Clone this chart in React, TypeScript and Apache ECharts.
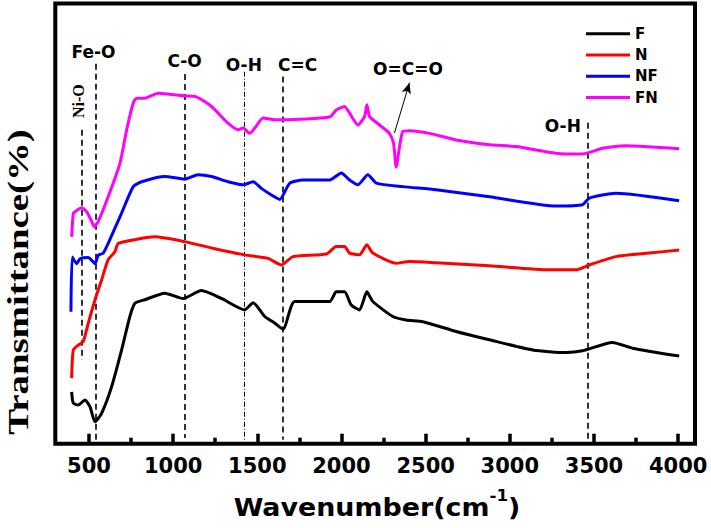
import React, { useEffect, useRef } from "react";
import * as echarts from "echarts";

// Wavenumber (cm-1) vs relative transmittance (arbitrary units, 0-100 plot scale)
const fData: [number, number][] = [
  [397, 11.8], [407, 9.2], [436, 8.8], [476, 9.9], [506, 8.4], [536, 5.0], [575, 6.9],
  [635, 13.0], [694, 21.3], [743, 28.9], [773, 31.9], [832, 32.7], [951, 34.2],
  [1059, 33.0], [1168, 34.8], [1287, 33.0], [1425, 30.4], [1475, 32.0], [1544, 28.9],
  [1603, 27.4], [1653, 26.0], [1722, 32.3], [1930, 32.3], [1969, 34.5], [2018, 34.5],
  [2058, 31.5], [2107, 30.4], [2151, 34.5], [2186, 32.3], [2305, 28.9], [2384, 28.1],
  [2483, 27.7], [2681, 25.5], [2879, 23.6], [3136, 21.3], [3334, 20.7], [3432, 21.1],
  [3610, 23.0], [3729, 21.7], [4006, 19.9],
];
const nData: [number, number][] = [
  [397, 14.9], [407, 21.3], [436, 22.4], [466, 23.2], [496, 27.4], [536, 32.7],
  [575, 37.2], [614, 41.8], [654, 43.6], [674, 45.5], [792, 46.5], [891, 47.0],
  [1069, 45.9], [1247, 44.3], [1425, 42.9], [1564, 42.1], [1643, 40.6], [1712, 42.5],
  [1910, 43.1], [1969, 44.8], [2018, 44.8], [2048, 43.3], [2107, 42.9], [2151, 45.2],
  [2186, 43.3], [2325, 41.0], [2404, 41.4], [2562, 41.1], [2879, 40.4], [3235, 39.5],
  [3393, 39.5], [3472, 40.6], [3630, 42.5], [3828, 43.3], [4006, 44.0],
];
const nfData: [number, number][] = [
  [393, 30.0], [401, 42.4], [427, 40.9], [447, 42.0], [496, 42.3], [536, 40.9],
  [555, 42.8], [585, 43.3], [614, 45.5], [694, 52.4], [763, 58.4], [813, 59.5],
  [951, 60.7], [1069, 60.1], [1148, 61.1], [1228, 60.7], [1326, 59.5], [1415, 58.8],
  [1475, 59.5], [1524, 58.0], [1584, 56.5], [1633, 55.5], [1693, 59.2], [1771, 59.9],
  [1930, 59.9], [1999, 61.5], [2048, 59.9], [2097, 58.8], [2157, 61.1], [2207, 59.2],
  [2364, 58.4], [2562, 57.7], [2879, 56.1], [3274, 54.0], [3432, 54.3], [3472, 55.8],
  [3630, 56.9], [4006, 55.2],
];
const fnData: [number, number][] = [
  [397, 47.0], [407, 52.4], [417, 52.7], [457, 53.6], [486, 52.7], [516, 50.5],
  [531, 49.3], [555, 50.5], [614, 56.1], [684, 63.7], [724, 71.3], [763, 77.4],
  [783, 78.5], [832, 78.5], [911, 79.6], [1069, 79.0], [1129, 78.9], [1228, 76.6],
  [1326, 72.8], [1386, 71.3], [1415, 71.7], [1455, 70.5], [1485, 71.7], [1534, 74.0],
  [1603, 73.6], [1653, 73.6], [1930, 74.2], [1969, 75.8], [2018, 76.6], [2048, 75.1],
  [2097, 72.4], [2137, 74.3], [2151, 77.0], [2167, 74.3], [2226, 72.4], [2285, 70.5],
  [2309, 68.3], [2325, 62.8], [2345, 67.5], [2364, 70.9], [2404, 71.1], [2523, 70.5],
  [2681, 69.0], [2879, 67.9], [3037, 67.5], [3274, 66.0], [3432, 65.8], [3551, 67.1],
  [3690, 67.7], [4006, 67.0],
];

const seriesNames = ["F", "N", "NF", "FN"];
const seriesColors = ["#000000", "#ff0000", "#0000ff", "#ff00ff"];
const majorTicks = [500, 1000, 1500, 2000, 2500, 3000, 3500, 4000];
const minorTicks = [750, 1250, 1750, 2250, 2750, 3250, 3750];

// Peak-assignment guide lines: [wavenumber, top, bottom, style]
const guideLines: [number, number, number, string][] = [
  [458, 71.3, 19.0, "dash"],
  [541, 86.3, 0.5, "dash"],
  [1068, 84.0, 1.3, "dash"],
  [1425, 84.5, 0.9, "dashdot"],
  [1651, 83.4, 0.9, "dash"],
  [3464, 72.9, 0.5, "dash"],
];
// Labels: [text, wavenumber, value]
const peakLabels: [string, number, number][] = [
  ["Fe-O", 527, 89.0],
  ["C-O", 1068, 87.0],
  ["O-H", 1420, 86.0],
  ["C=C", 1740, 86.0],
  ["O=C=O", 2395, 85.2],
  ["O-H", 3315, 72.2],
];
const niLabel: [string, number, number] = ["Ni-O", 435, 77.8];
const arrowFrom: [number, number] = [2315, 70.6];
const arrowTo: [number, number] = [2404, 82.0];

export default function App() {
  const ref = useRef<HTMLDivElement>(null);
  useEffect(() => {
    if (!ref.current) return;
    const chart = echarts.init(ref.current, undefined, { renderer: "svg" });
    const datasets = [fData, nData, nfData, fnData];

    const markLineData: any[] = guideLines.map(([w, top, bot, st]) => [
      {
        coord: [w, top],
        lineStyle: {
          color: "#000",
          width: st === "dash" ? 1.6 : 1,
          type: st === "dash" ? [6, 4] : [5, 2, 1, 2],
        },
      },
      { coord: [w, bot] },
    ]);
    markLineData.push([
      { coord: arrowFrom, symbol: "none", lineStyle: { color: "#000", width: 1, type: "solid" } },
      { coord: arrowTo, symbol: "arrow", symbolSize: [7, 11] },
    ]);

    const markPointData: any[] = peakLabels.map(([t, w, v]) => ({
      coord: [w, v],
      symbolSize: 0,
      itemStyle: { color: "rgba(0,0,0,0)" },
      label: {
        show: true,
        position: "inside",
        formatter: t,
        fontFamily: "DejaVu Sans",
        fontWeight: "bold",
        fontSize: 17,
        color: "#000",
      },
    }));
    markPointData.push({
      coord: [niLabel[1], niLabel[2]],
      symbolSize: 0,
      itemStyle: { color: "rgba(0,0,0,0)" },
      label: {
        show: true,
        position: "inside",
        formatter: niLabel[0],
        rotate: 90,
        fontFamily: "Liberation Serif",
        fontWeight: "bold",
        fontSize: 16,
        color: "#000",
      },
    });

    const series: any[] = seriesNames.map((name, i) => ({
      name,
      type: "line",
      data: datasets[i],
      symbol: "none",
      showSymbol: false,
      smooth: 0.2,
      lineStyle: { color: seriesColors[i], width: 3 },
      itemStyle: { color: seriesColors[i] },
      z: 3,
    }));
    series[0].markLine = {
      silent: true,
      symbol: ["none", "none"],
      label: { show: false },
      animation: false,
      data: markLineData,
      z: 2,
    };
    series[0].markPoint = {
      silent: true,
      animation: false,
      data: markPointData,
    };

    chart.setOption({
      animation: false,
      backgroundColor: "#ffffff",
      grid: {
        left: 55.3,
        right: 16,
        top: 3.5,
        bottom: 84.3,
        show: true,
        borderWidth: 4,
        borderColor: "#000",
        backgroundColor: "transparent",
      },
      legend: {
        data: seriesNames,
        orient: "vertical",
        left: 581,
        top: 18,
        icon: "rect",
        itemWidth: 44,
        itemHeight: 3,
        itemGap: 0,
        textStyle: {
          fontFamily: "DejaVu Sans",
          fontWeight: "bold",
          fontSize: 15,
          lineHeight: 21.3,
          color: "#000",
        },
      },
      xAxis: [
        {
          type: "value",
          min: 300,
          max: 4100,
          position: "bottom",
          axisLine: { show: false },
          splitLine: { show: false },
          axisTick: {
            show: true,
            inside: true,
            length: 10,
            customValues: majorTicks,
            lineStyle: { color: "#000", width: 3.5 },
          },
          axisLabel: {
            customValues: majorTicks,
            formatter: (v: number) => String(v),
            fontFamily: "DejaVu Sans",
            fontWeight: "bold",
            fontSize: 21,
            color: "#000",
            margin: 12,
          },
        },
        {
          type: "value",
          min: 300,
          max: 4100,
          position: "bottom",
          axisLine: { show: false },
          splitLine: { show: false },
          axisTick: {
            show: true,
            inside: true,
            length: 6,
            customValues: minorTicks,
            lineStyle: { color: "#000", width: 3.5 },
          },
          axisLabel: { show: false },
        },
      ],
      yAxis: {
        type: "value",
        min: 0,
        max: 100,
        show: false,
      },
      graphic: [
        {
          type: "text",
          x: 18,
          y: 282,
          rotation: Math.PI / 2,
          scaleX: 1.34,
          style: {
            text: "Transmittance(%)",
            fontFamily: "Liberation Serif",
            fontWeight: "bold",
            fontSize: 29,
            fill: "#000",
            align: "center",
            verticalAlign: "middle",
          },
        },
        {
          type: "text",
          x: 377,
          y: 508,
          scaleX: 1.12,
          style: {
            text: "Wavenumber(cm{sup|-1})",
            fontFamily: "DejaVu Sans",
            fontWeight: "bold",
            fontSize: 24,
            fill: "#000",
            align: "center",
            verticalAlign: "middle",
            rich: {
              sup: {
                fontFamily: "DejaVu Sans",
                fontWeight: "bold",
                fontSize: 15,
                fill: "#000",
                padding: [0, 0, 24, 0],
              },
            },
          },
        },
      ],
      series,
    });
    return () => chart.dispose();
  }, []);
  return (
    <div
      ref={ref}
      style={{ position: "fixed", left: 0, top: 0, width: 711, height: 528, background: "#fff" }}
    />
  );
}
